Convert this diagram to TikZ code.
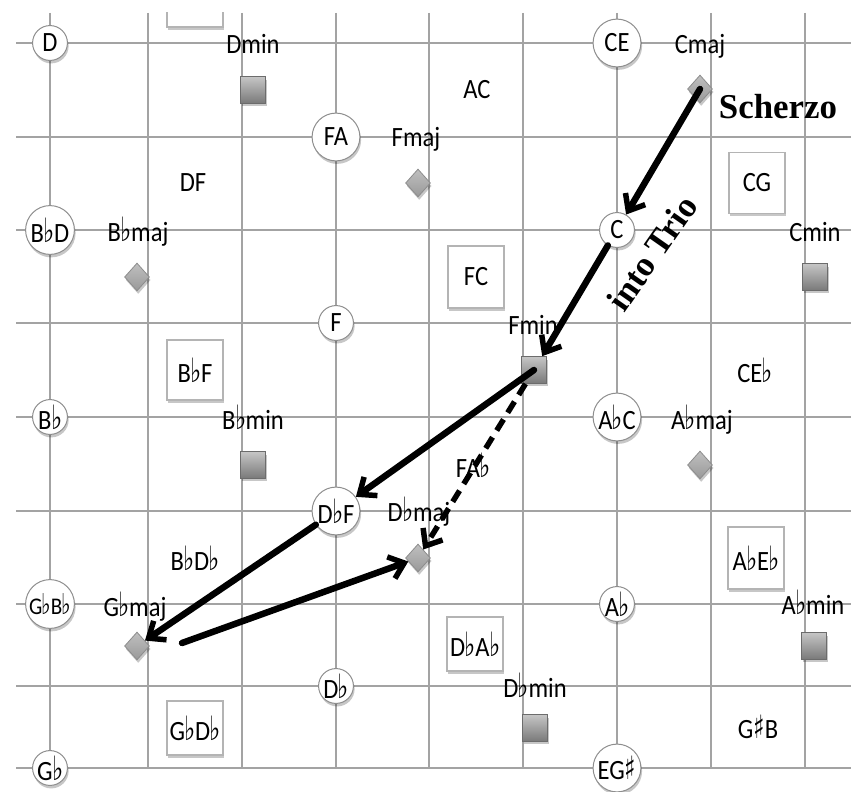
\documentclass[tikz,border=0pt]{standalone}
\usepackage{fontspec}
\setmainfont{Carlito}[FakeStretch=0.88]
\newfontfamily\symfont{DejaVu Sans}
\newfontfamily\titlefont{Liberation Serif}
\usetikzlibrary{shapes.geometric,shadows,arrows.meta}
\newcommand{\fl}{\kern-0.5pt{\symfont\scalebox{0.85}[1.2]{♭}}\kern-0.5pt}
\newcommand{\shp}{{\symfont\scalebox{0.85}[1.15]{♯}}}
\newcommand{\zb}[1]{\makebox[0pt]{#1}}
\definecolor{gridc}{HTML}{A3A3A3}
\definecolor{circc}{HTML}{8E8E8E}
\definecolor{boxc}{HTML}{B4B4B4}
\tikzset{
  txt/.style={font=\fontsize{28}{30}\selectfont, inner sep=0pt},
  lbl/.style={txt, anchor=base},
  shad/.style={drop shadow={shadow xshift=1.2pt, shadow yshift=-3pt, opacity=0.22, fill=black}},
  pc/.style={circle, draw=circc, line width=1pt, fill=white, inner sep=0pt, minimum size=#1, shad, txt},
  dyad/.style={rectangle, draw=boxc, line width=1.6pt, fill=white, inner sep=0pt, minimum width=56, minimum height=#1, shad, txt},
  minorsq/.style={rectangle, draw=gray!85!black, line width=0.8pt, top color=gray!45, bottom color=gray!95!black, minimum width=25, minimum height=27, inner sep=0pt, shad},
  majordm/.style={diamond, draw=gray!90, line width=0.8pt, top color=gray!50, bottom color=gray!80, minimum width=25, minimum height=28, inner sep=0pt, shad},
  move/.style={line width=6.5pt, line cap=round, -{Straight Barb[length=14pt,width=23pt,line width=5.5pt]}},
  dashmove/.style={move, line width=5.5pt, line cap=butt, dash pattern=on 13pt off 8pt},
  title/.style={font=\titlefont\bfseries\fontsize{35}{40}\selectfont, inner sep=0pt},
}
\begin{document}
\begin{tikzpicture}[x=1bp, y=-1bp]
\useasboundingbox (0,0) rectangle (859,792);
\fill[white] (0,0) rectangle (859,792);
\begin{scope}
\clip (0,13) rectangle (859,792);
% grid
\foreach \gx in {50,148,242,336,429,523,617,711,805}
  \draw[gridc, line width=1.7pt] (\gx,13) -- (\gx,768);
\foreach \gy in {43,137,230,323,417,511,604,686,768}
  \draw[gridc, line width=1.7pt] (16,\gy) -- (851,\gy);

% dyad boxes
\node[dyad=60] (topbox) at (195,-3) {};
\node[dyad=61] (CG) at (757,183) {CG};
\node[dyad=62] (FC) at (476,277) {FC};
\node[dyad=60] (BbF) at (195,370) {B\fl F};
\node[dyad=62] (AbEb) at (756,558) {A\fl E\fl};
\node[dyad=54] (DbAb) at (475,644) {D\fl A\fl};
\node[dyad=54] (GbDb) at (195,728) {G\fl D\fl};

% plain dyads
\node[txt] (AC) at (477,90) {AC};
\node[txt] (DF) at (193,183) {DF};
\node[txt] (CEb) at (755,370) {CE\fl};
\node[txt] (FAb) at (473,465) {FA\fl};
\node[txt] (BbDb) at (195,558) {B\fl D\fl};
\node[txt] (GsB) at (758,727) {G\shp B};

% pitch-class circles
\node[pc=35] (D) at (50,43) {\zb{D}};
\node[pc=48] (CE) at (617,43) {\zb{CE}};
\node[pc=48] (FA) at (336,137) {\zb{FA}};
\node[pc=49] (BbD) at (50,230) {\zb{B\fl D}};
\node[pc=35] (C) at (617,230) {\zb{C}};
\node[pc=35] (F) at (336,323) {\zb{F}};
\node[pc=35] (Bb) at (50,417) {\zb{B\fl}};
\node[pc=48] (AbC) at (617,417) {\zb{A\fl C}};
\node[pc=48] (DbF) at (336,511) {\zb{D\fl F}};
\node[pc=49] (GbBb) at (50,604) {\zb{\fontsize{24}{26}\selectfont G\fl B\fl}};
\node[pc=35] (Ab) at (617,604) {\zb{A\fl}};
\node[pc=35] (Db) at (336,686) {\zb{D\fl}};
\node[pc=35] (Gb) at (50,768) {\zb{G\fl}};
\node[pc=48] (EGs) at (617,768) {\zb{EG\shp}};

% minor triads
\node[minorsq] (amin) at (534,-5) {};
\node[minorsq] (dmin) at (253,90) {};
\node[lbl] (dminl) at (253,54) {Dmin};
\node[minorsq] (cmin) at (815,277) {};
\node[lbl] (cminl) at (815,241) {Cmin};
\node[minorsq] (fmin) at (534,370) {};
\node[lbl] (fminl) at (533,334) {Fmin};
\node[minorsq] (bbmin) at (253,465) {};
\node[lbl] (bbminl) at (253,429) {B\fl min};
\node[minorsq] (abmin) at (814,646) {};
\node[lbl] (abminl) at (813,614) {A\fl min};
\node[minorsq] (dbmin) at (535,728) {};
\node[lbl] (dbminl) at (535,697) {D\fl min};

% major triads
\node[majordm] (cmaj) at (700,89) {};
\node[lbl] (cmajl) at (700,54) {Cmaj};
\node[majordm] (fmaj) at (418,183) {};
\node[lbl] (fmajl) at (416,146) {Fmaj};
\node[majordm] (bbmaj) at (137,277) {};
\node[lbl] (bbmajl) at (138,241) {B\fl maj};
\node[majordm] (abmaj) at (700,465) {};
\node[lbl] (abmajl) at (702,429) {A\fl maj};
\node[majordm] (dbmaj) at (418,558) {};
\node[lbl] (dbmajl) at (419,521) {D\fl maj};
\node[majordm] (gbmaj) at (137,646) {};
\node[lbl] (gbmajl) at (135,616) {G\fl maj};

% titles
\node[title] (scherzo) at (778,107) {Scherzo};
\node[title, rotate=55] (trio) at (652,253) {into Trio};

% progression
\coordinate (s6) at (182,643);
\draw[move] (cmaj.center) -- (C);
\draw[move] (C) -- (fmin);
\draw[move] (fmin.center) -- (DbF);
\draw[dashmove] (fmin) -- (dbmaj);
\draw[move] (DbF) -- (gbmaj);
\draw[move] (s6) -- (dbmaj);
\end{scope}
\end{tikzpicture}
\end{document}
